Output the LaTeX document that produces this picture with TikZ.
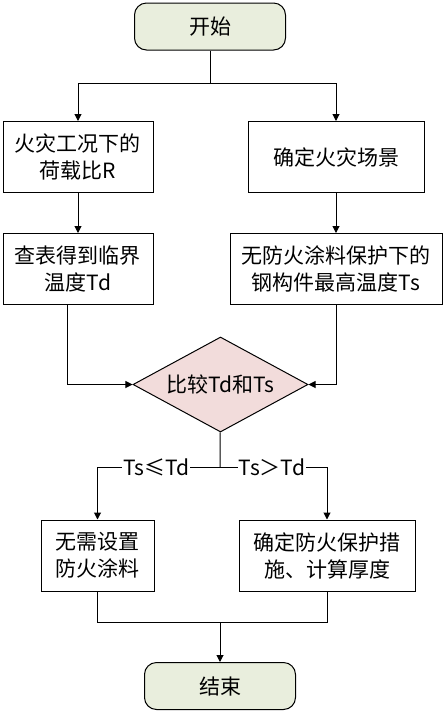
\documentclass[tikz,border=0pt]{standalone}
\usepackage{fontspec}
\newfontfamily\cjk{Noto Sans CJK SC}
\usetikzlibrary{shapes.geometric,arrows.meta}
\definecolor{startgreen}{RGB}{233,238,221}
\definecolor{cmppink}{RGB}{242,220,219}

\begin{document}
\begin{tikzpicture}[x=1pt, y=-1pt, line width=1pt,
		every node/.style={font=\cjk\fontsize{21}{27}\selectfont, align=center, inner sep=0pt},
		term/.style={draw, rounded corners=12pt, fill=startgreen, minimum width=151pt, minimum height=47pt},
		proc/.style={draw, minimum height=71pt},
		cmp/.style={draw, diamond, aspect=1.84, fill=cmppink, minimum width=175pt, minimum height=95pt},
		lbl/.style={fill=white, inner xsep=1pt},
		arr/.style={-{Triangle[length=7pt,width=7pt]}}]
		\useasboundingbox (0,0) rectangle (444,713);
		
		\node[term] (start) at (210,26.5) {开始};
		\node[proc, minimum width=150pt] (load) at (78,157) {火灾工况下的\\荷载比R};
		\node[proc, minimum width=176pt] (fire) at (336,157) {确定火灾场景};
		\node[proc, minimum width=150pt] (crit) at (78,269) {查表得到临界\\温度Td};
		\node[proc, minimum width=212pt] (steel) at (336,269) {无防火涂料保护下的\\钢构件最高温度Ts};
		\node[cmp] (comp) at (220.5,384.5) {比较Td和Ts};
		\node[proc, minimum width=113pt] (none) at (97.5,555.5) {无需设置\\防火涂料};
		\node[proc, minimum width=176pt] (prot) at (327,555.5) {确定防火保护措\\施、计算厚度};
		\node[term] (end) at (220,686) {结束};
		
		\coordinate (split) at (210,83);
		\coordinate (fork) at (220,467);
		\coordinate (join) at (220,622);
		
		\draw (start) -- (split);
		\draw[arr] (split) -| (load);
		\draw[arr] (split) -| (fire);
		\draw[arr] (load) -- (crit);
		\draw[arr] (fire) -- (steel);
		\draw[arr] ([xshift=-11pt]crit.south) |- (comp);
		\draw[arr] (steel) |- (comp);
		\draw (comp) -- (fork);
		\draw[arr] (fork) -| (none) node[lbl, pos=0.26] (le) {Ts≤Td};
		\draw[arr] (fork) -| (prot) node[lbl, pos=0.243] (gt) {Ts＞Td};
		\draw (none) |- (join);
		\draw (prot) |- (join);
		\draw[arr] (join) -- (end);
	\end{tikzpicture}
\end{document}
